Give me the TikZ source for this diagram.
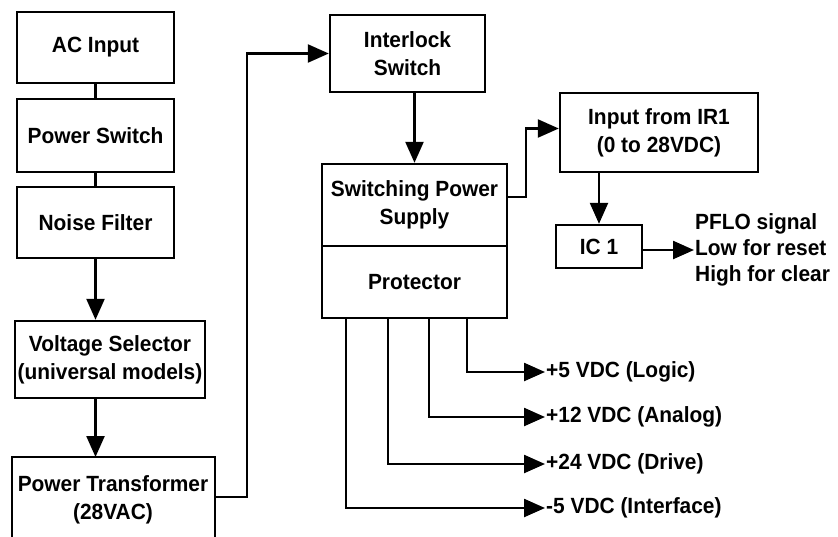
\documentclass[tikz,border=0pt]{standalone}
\usepackage{fontspec}
\setmainfont{Liberation Sans}[FakeStretch=0.95]
\usetikzlibrary{arrows.meta}
\begin{document}
\begin{tikzpicture}[x=1pt,y=-1pt,
  every node/.style={font=\fontsize{22}{28}\selectfont\bfseries},
  box/.style={draw, line width=2.4pt, inner sep=0pt, align=center},
  txt/.style={inner sep=1pt, align=center},
  conn/.style={line width=2.4pt},
  arr/.style={line width=2.4pt, -{Triangle[length=21pt,width=18pt]}}]
\useasboundingbox (0,0) rectangle (838,536);
\clip (0,0) rectangle (838,536);
% left column
\node[box, minimum width=157, minimum height=71] (ac) at (95.5,47.5) {AC Input};
\node[box, minimum width=157, minimum height=73] (ps) at (95.5,135.5) {Power Switch};
\node[box, minimum width=157, minimum height=71] (nf) at (95.5,222.5) {Noise Filter};
\node[box, minimum width=190, minimum height=77] (vs) at (110,359.5) {Voltage Selector\\(universal models)};
\draw[line width=2.4pt] (12,600) rectangle (215,457);
\coordinate (ptT) at (113,457);
\coordinate (ptE) at (215,497);
\node[txt] (pt) at (113,500) {Power Transformer\\(28VAC)};
\draw[conn] (ac.south) -- (ps.north);
\draw[conn] (ps.south) -- (nf.north);
\draw[arr] (nf.south) -- (nf.south |- vs.north);
\draw[arr] (vs.south -| nf.south) -- (nf.south |- ptT);
% middle
\node[box, minimum width=155, minimum height=77] (il) at (407.5,53.5) {Interlock\\Switch};
\node[box, minimum width=185, minimum height=82] (sps) at (414.5,205) {Switching Power\\Supply};
\node[box, minimum width=185, minimum height=72] (prot) at (414.5,282) {Protector};
\draw[arr] (ptE) -- ++(32,0) |- (il.west);
\draw[arr] (il.south -| sps.north) -- (sps.north);
% right
\node[box, minimum width=198, minimum height=79] (ir) at (659,132.5) {Input from IR1\\(0 to 28VDC)};
\node[box, minimum width=86, minimum height=43] (ic) at (599,246.5) {IC 1};
\draw[arr] ([yshift=8]sps.east) -- ++(18,0) |- ([yshift=4]ir.west);
\draw[arr] (ic.north |- ir.south) -- (ic.north);
\node[txt, anchor=west, align=left, font=\fontsize{22}{26}\selectfont\bfseries] (pflo) at (694,250) {PFLO signal\\Low for reset\\High for clear};
\draw[arr] (ic.east |- pflo.west) -- (pflo.west);
% outputs
\node[txt, anchor=west] (o5) at (545,372) {+5 VDC (Logic)};
\node[txt, anchor=west] (o12) at (545,417) {+12 VDC (Analog)};
\node[txt, anchor=west] (o24) at (545,464) {+24 VDC (Drive)};
\node[txt, anchor=west] (om5) at (545,508) {-5 VDC (Interface)};
\draw[arr] ([xshift=52.5]prot.south) |- (o5.west);
\draw[arr] ([xshift=14.5]prot.south) |- (o12.west);
\draw[arr] ([xshift=-26.5]prot.south) |- (o24.west);
\draw[arr] ([xshift=-68.5]prot.south) |- (om5.west);
\end{tikzpicture}
\end{document}
